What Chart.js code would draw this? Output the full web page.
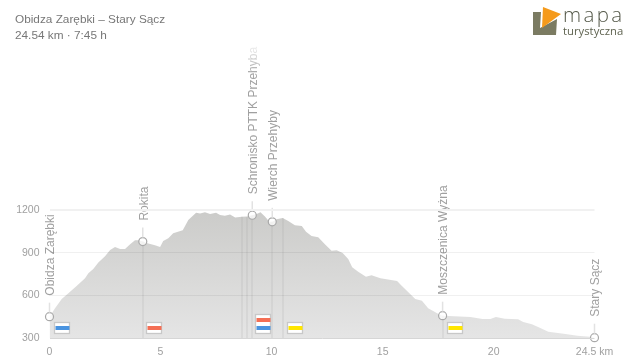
<!DOCTYPE html>
<html>
<head>
<meta charset="utf-8">
<title>Profil trasy</title>
<script src="https://cdn.jsdelivr.net/npm/chart.js@4"></script>
<style>
  html, body { margin: 0; padding: 0; background: #fff; }
  #wrap { position: relative; width: 635px; height: 362px; overflow: hidden; }
  #profile { position: absolute; left: 0; top: 0; }
  .head { position: absolute; left: 15px; font: 11.8px "Liberation Sans", Arial, sans-serif; color: #777; white-space: nowrap; }
  .logo-svg { position: absolute; left: 533px; top: 7px; }
  .logo-big { position: absolute; left: 563px; top: -2px; font: 300 20.5px/32px "Open Sans", sans-serif; color: #55594a; letter-spacing: 2.4px; }
  .logo-small { position: absolute; left: 563px; top: 23px; font: 11.3px/16px "Open Sans", sans-serif; color: #5f6350; }
</style>
</head>
<body>
<div id="wrap">
  <canvas id="profile" width="635" height="362"></canvas>
  <div class="head" style="top:12px">Obidza Zarębki – Stary Sącz</div>
  <div class="head" style="top:28px">24.54 km · 7:45 h</div>
  <svg class="logo-svg" width="30" height="30" viewBox="0 0 30 30">
    <path d="M0 5L8 5L7 21L24 12L23 28L0 28Z" fill="#7b7b62"></path>
    <path d="M10 0L28 7L9 21Z" fill="#f59a1b"></path>
  </svg>
  <div class="logo-big">mapa</div>
  <div class="logo-small">turystyczna</div>
</div>

<script>
// elevation profile
var profileKm = [0, 0.25, 0.55, 0.85, 1.22, 1.6, 1.75, 1.97, 2.2, 2.5, 2.73, 2.95, 3.18, 3.4, 3.63, 3.85, 3.99, 4.2, 4.45, 4.75, 4.98,
  5.12, 5.35, 5.57, 6.0, 6.25, 6.6, 6.78, 7.0, 7.23, 7.5, 7.68, 7.9, 8.13, 8.36, 8.66, 8.88, 9.13, 9.33, 9.5, 9.7, 9.9, 10.03,
  10.23, 10.5, 10.75, 11.05, 11.36, 11.55, 11.8, 12.1, 12.4, 12.7, 12.93, 13.2, 13.45, 13.63, 13.9, 14.25, 14.5, 14.9, 15.65,
  15.87, 16.47, 16.77, 17.05, 17.6, 17.7, 17.96, 18.95, 19.5, 19.85, 20.1, 20.5, 21.1, 21.33, 21.72, 22.1, 22.46, 23.15, 23.77, 24.35, 24.54];
var profileEle = [450, 510, 575, 615, 665, 720, 755, 785, 830, 875, 918, 940, 925, 925, 960, 988, 988, 978, 965, 953, 940,
  982, 1002, 1037, 1058, 1130, 1180, 1175, 1185, 1172, 1180, 1165, 1160, 1168, 1147, 1153, 1155, 1163, 1172, 1185, 1155, 1117, 1117,
  1135, 1143, 1123, 1093, 1088, 1047, 1018, 1008, 960, 913, 917, 897, 855, 797, 765, 730, 742, 720, 700,
  665, 575, 562, 510, 462, 457, 455, 447, 433, 433, 447, 435, 431, 412, 397, 370, 344, 330, 316, 309, 302];

// waypoints
var stopNames = ['Obidza Zarębki', 'Rokita', 'Schronisko PTTK Przehyba', 'Wierch Przehyby', 'Moszczenica Wyżna', 'Stary Sącz'];
var stopKm = [0, 4.2, 9.13, 10.03, 17.7, 24.54];
var stopEle = [450, 978, 1163, 1117, 457, 302];

// lines running down to the axis (trail junctions)
var dropKm = [4.2, 8.66, 8.9, 9.13, 10.03, 10.5, 17.7];

// trail signs: where they start and which stripes they carry
var signKm = [0.2, 4.35, 9.27, 10.7, 17.9];
var signStripes = [['#4a94e0'], ['#f46f55'], ['#f46f55', '#4a94e0'], ['#ffe600'], ['#ffe600']];

var yTicks = [300, 600, 900, 1200];
var xTicks = [0, 5, 10, 15, 20, 24.54];

var GREY = '#a0a0a0';

function xPix(chart, km) { return chart.scales.x.getPixelForValue(km); }
function yPix(chart, ele) { return chart.scales.y.getPixelForValue(ele); }

var profileDecor = {
  id: 'profileDecor',

  // drop lines sit on the fill but under the waypoint circles
  afterDatasetDraw: function(chart, args) {
    if (args.index !== 1) return;
    var ctx = chart.ctx;
    var bottom = chart.chartArea.bottom;
    ctx.save();
    ctx.strokeStyle = 'rgba(150,150,150,0.13)';
    ctx.lineWidth = 2;
    dropKm.forEach(function(km) {
      var x = Math.round(xPix(chart, km));
      var i = profileKm.indexOf(km);
      var top = i >= 0 ? yPix(chart, profileEle[i]) : yPix(chart, 1150);
      ctx.beginPath();
      ctx.moveTo(x, top);
      ctx.lineTo(x, bottom);
      ctx.stroke();
    });
    ctx.restore();
  },

  afterDatasetsDraw: function(chart) {
    var ctx = chart.ctx;
    ctx.save();
    this._drawLabels(chart, ctx);
    this._drawSigns(chart, ctx);
    ctx.restore();
  },

  _drawLabels: function(chart, ctx) {
    ctx.font = '12px "Liberation Sans", Arial, sans-serif';
    ctx.textBaseline = 'middle';
    ctx.textAlign = 'left';
    stopNames.forEach(function(name, i) {
      var x = xPix(chart, stopKm[i]);
      var y = yPix(chart, stopEle[i]);
      var start = y - 21;
      var w = ctx.measureText(name).width;

      // stub between the circle and the label
      ctx.strokeStyle = '#e2e2e2';
      ctx.lineWidth = 1.5;
      ctx.beginPath();
      ctx.moveTo(x, y - 4);
      ctx.lineTo(x, y - 14);
      ctx.stroke();

      ctx.save();
      ctx.translate(x + 1.5, start);
      ctx.rotate(-Math.PI / 2);
      ctx.fillStyle = '#fff';
      ctx.fillRect(-1, -7, w + 2, 14);
      if (start - w < 60) {
        // the longest name fades out towards the top
        var fade = ctx.createLinearGradient(0, 0, w, 0);
        fade.addColorStop(0, GREY);
        fade.addColorStop(0.8, GREY);
        fade.addColorStop(1, '#eee');
        ctx.fillStyle = fade;
      } else {
        ctx.fillStyle = GREY;
      }
      ctx.fillText(name, 0, 0);
      ctx.restore();
    });
  },

  _drawSigns: function(chart, ctx) {
    var bottom = chart.chartArea.bottom;
    signKm.forEach(function(km, i) {
      var stripes = signStripes[i];
      var x = Math.round(xPix(chart, km)) + 0.5;
      var h = stripes.length * 8 + 3;
      var top = bottom - 4.5 - h;
      ctx.fillStyle = '#fff';
      ctx.strokeStyle = '#c8c8c8';
      ctx.lineWidth = 1.3;
      ctx.fillRect(x, top, 15, h);
      ctx.strokeRect(x, top, 15, h);
      stripes.forEach(function(color, s) {
        ctx.fillStyle = color;
        ctx.fillRect(x + 1, top + 3.5 + s * 8, 14, 4);
      });
    });
  }
};

var profilePoints = profileKm.map(function(km, i) { return { x: km, y: profileEle[i] }; });
var stopPoints = stopKm.map(function(km, i) { return { x: km, y: stopEle[i] }; });

new Chart(document.getElementById('profile'), {
  type: 'line',
  data: {
    datasets: [
      {
        data: stopPoints,
        showLine: false,
        pointRadius: 4,
        pointBorderWidth: 1.2,
        pointBackgroundColor: 'rgba(255,255,255,0.75)',
        pointBorderColor: '#a8a8a8'
      },
      {
        data: profilePoints,
        pointRadius: 0,
        borderWidth: 0,
        tension: 0,
        fill: 'start',
        backgroundColor: function(c) {
          var area = c.chart.chartArea;
          if (!area) return '#d8d8d8';
          var g = c.chart.ctx.createLinearGradient(0, area.top, 0, area.bottom);
          g.addColorStop(0, '#cbcbc9');
          g.addColorStop(1, '#e5e5e5');
          return g;
        }
      }
    ]
  },
  plugins: [profileDecor],
  options: {
    responsive: false,
    animation: false,
    clip: false,
    layout: { padding: { top: 210, right: 40.5, left: 0, bottom: 0 } },
    plugins: { legend: { display: false }, tooltip: { enabled: false } },
    scales: {
      x: {
        type: 'linear',
        min: 0,
        max: 24.54,
        afterFit: function(scale) { scale.height = 24; },
        afterBuildTicks: function(scale) {
          scale.ticks = xTicks.map(function(v) { return { value: v }; });
        },
        border: { display: false },
        grid: { display: false },
        ticks: {
          autoSkip: false,
          maxRotation: 0,
          padding: 0,
          color: GREY,
          font: { family: '"Liberation Sans", Arial, sans-serif', size: 10.5 },
          callback: function(v) { return v === 24.54 ? '24.5 km' : String(v); }
        }
      },
      y: {
        min: 300,
        max: 1200,
        afterFit: function(scale) { scale.width = 49.5; },
        afterBuildTicks: function(scale) {
          scale.ticks = yTicks.map(function(v) { return { value: v }; });
        },
        border: { display: false },
        grid: {
          z: 1,
          drawTicks: false,
          color: function(c) {
            if (c.tick.value === 300) return '#d6d6d6';
            if (c.tick.value === 1200) return '#f1f1f1';
            return 'rgba(0,0,0,0.06)';
          },
          lineWidth: function(c) { return c.tick.value === 1200 ? 2 : 1; }
        },
        ticks: {
          padding: 10,
          color: GREY,
          font: { family: '"Liberation Sans", Arial, sans-serif', size: 10.5 },
          callback: function(v) { return String(v); }
        }
      }
    }
  }
});
</script>
</body>
</html>
